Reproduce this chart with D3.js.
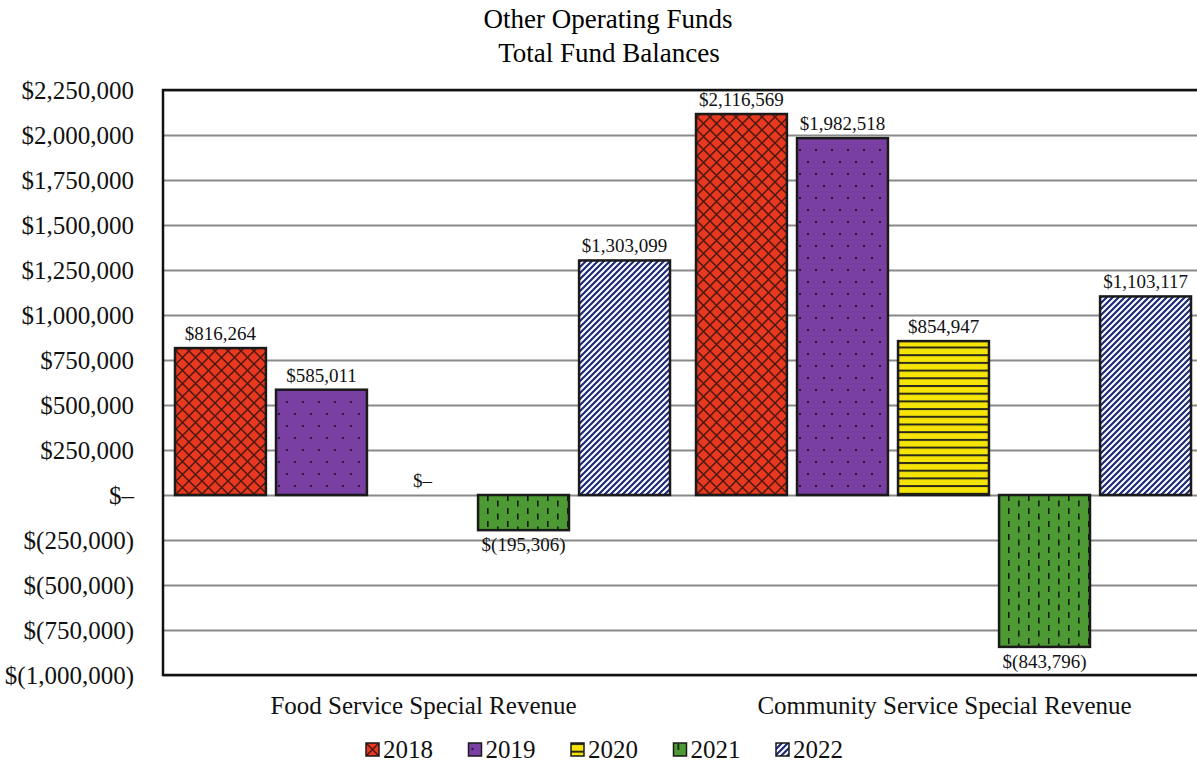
<!DOCTYPE html>
<html>
<head>
<meta charset="utf-8">
<script src="https://cdn.jsdelivr.net/npm/d3@7"></script>
<style>
  body { margin: 0; background: #fff; }
  svg text { font-family: "Liberation Serif", "DejaVu Serif", "Noto Serif", Tinos, serif; }
  .grid line { stroke: #8a8a8a; stroke-width: 2; }
</style>
</head>
<body>
<script>
  var categories = ["Food Service Special Revenue", "Community Service Special Revenue"];
  var years = ["2018", "2019", "2020", "2021", "2022"];
  var values2018 = [816264, 2116569];
  var values2019 = [585011, 1982518];
  var values2020 = [0, 854947];
  var values2021 = [-195306, -843796];
  var values2022 = [1303099, 1103117];
  var tickValues = [2250000, 2000000, 1750000, 1500000, 1250000, 1000000, 750000, 500000, 250000, 0,
                    -250000, -500000, -750000, -1000000];

  var series = [values2018, values2019, values2020, values2021, values2022];

  var width = 1197, height = 763;
  var margin = {top: 90, right: -8, bottom: 88, left: 163};

  var svg = d3.select("body").append("svg")
      .attr("width", width)
      .attr("height", height);

  // patterns
  var defs = svg.append("defs");

  var p18 = defs.append("pattern").attr("id", "p2018")
      .attr("patternUnits", "userSpaceOnUse").attr("width", 13).attr("height", 13);
  p18.append("rect").attr("width", 13).attr("height", 13).attr("fill", "#e8381f");
  p18.append("path").attr("d", "M0,0L13,13M13,0L0,13")
      .attr("stroke", "#4a1810").attr("stroke-width", 1.5);

  var p19 = defs.append("pattern").attr("id", "p2019")
      .attr("patternUnits", "userSpaceOnUse").attr("width", 16).attr("height", 24);
  p19.append("rect").attr("width", 16).attr("height", 24).attr("fill", "#7a3fa3");
  p19.append("circle").attr("cx", 4).attr("cy", 6).attr("r", 1.1).attr("fill", "#1a0a2a");
  p19.append("circle").attr("cx", 12).attr("cy", 18).attr("r", 1.1).attr("fill", "#1a0a2a");

  var p20 = defs.append("pattern").attr("id", "p2020")
      .attr("patternUnits", "userSpaceOnUse").attr("width", 8).attr("height", 7.7);
  p20.append("rect").attr("width", 8).attr("height", 7.7).attr("fill", "#f6e406");
  p20.append("rect").attr("y", 0).attr("width", 8).attr("height", 2).attr("fill", "#2a2a1a");

  var p21 = defs.append("pattern").attr("id", "p2021")
      .attr("patternUnits", "userSpaceOnUse").attr("width", 20).attr("height", 13);
  p21.append("rect").attr("width", 20).attr("height", 13).attr("fill", "#4d9a35");
  p21.append("rect").attr("x", 4).attr("y", 1).attr("width", 1.6).attr("height", 6).attr("fill", "#0d1a08");
  p21.append("rect").attr("x", 14).attr("y", 6.5).attr("width", 1.6).attr("height", 6).attr("fill", "#0d1a08");

  var p22 = defs.append("pattern").attr("id", "p2022")
      .attr("patternUnits", "userSpaceOnUse").attr("width", 6).attr("height", 6);
  p22.append("rect").attr("width", 6).attr("height", 6).attr("fill", "#ffffff");
  p22.append("path").attr("d", "M-1.5,1.5L1.5,-1.5M0,6L6,0M4.5,7.5L7.5,4.5")
      .attr("stroke", "#1c2a78").attr("stroke-width", 2.2);

  var x0 = d3.scaleBand()
      .domain(categories)
      .range([margin.left, width - margin.right]);

  var x1 = d3.scaleBand()
      .domain(years)
      .range([12, x0.bandwidth() - 14])
      .paddingInner(0.1);

  var y = d3.scaleLinear()
      .domain([-1000000, 2250000])
      .range([height - margin.bottom, margin.top]);

  var fmt = d3.format(",.0f");
  function money(v) {
    if (v === 0) return "$\u2013";
    if (v < 0) return "$(" + fmt(-v) + ")";
    return "$" + fmt(v);
  }

  // gridlines
  svg.append("g")
      .attr("class", "grid")
      .attr("transform", "translate(" + margin.left + ",0)")
      .call(d3.axisRight(y).tickValues(tickValues).tickSize(width - margin.left).tickFormat(""))
      .call(function(g) { g.select(".domain").remove(); });

  // axis-y labels
  var yAxis = svg.append("g")
      .attr("transform", "translate(" + (margin.left - 26) + ",0)")
      .call(d3.axisLeft(y).tickValues(tickValues).tickSize(0).tickFormat(money));
  yAxis.attr("font-family", null).attr("font-size", null);
  yAxis.select(".domain").remove();
  yAxis.selectAll("text")
      .attr("font-size", "25px")
      .attr("dy", "0.35em")
      .attr("fill", "#111");

  // bars
  var group = svg.selectAll(".cat")
    .data(categories)
    .enter().append("g")
      .attr("transform", function(d) { return "translate(" + x0(d) + ",0)"; });

  var bar = group.selectAll("g")
    .data(function(d, i) {
      return years.map(function(yr, j) { return {year: yr, value: series[j][i]}; });
    })
    .enter().append("g");

  bar.filter(function(d) { return d.value !== 0; })
    .append("rect")
      .attr("x", function(d) { return x1(d.year); })
      .attr("y", function(d) { return y(Math.max(0, d.value)); })
      .attr("width", x1.bandwidth())
      .attr("height", function(d) { return Math.abs(y(d.value) - y(0)); })
      .attr("fill", function(d) { return "url(#p" + d.year + ")"; })
      .attr("stroke", "#1a1a1a")
      .attr("stroke-width", 2.5);

  bar.append("text")
    .attr("x", function(d) { return x1(d.year) + x1.bandwidth() / 2; })
    .attr("y", function(d) {
      if (d.value < 0) return y(d.value) + 21;
      if (d.value === 0) return y(0) - 8;
      return y(d.value) - 8;
    })
    .attr("text-anchor", "middle")
    .attr("font-size", "19px")
    .attr("fill", "#111")
    .text(function(d) { return money(d.value); });

  // frame
  svg.append("path")
    .attr("d", "M" + width + "," + y(2250000) + "H" + margin.left + "V" + y(-1000000) + "H" + width)
    .attr("fill", "none")
    .attr("stroke", "#111")
    .attr("stroke-width", 2.5);

  // category labels
  svg.selectAll(".catlabel")
    .data(categories)
    .enter().append("text")
      .attr("x", function(d) { return x0(d) + x0.bandwidth() / 2; })
      .attr("y", 714)
      .attr("text-anchor", "middle")
      .attr("font-size", "25px")
      .attr("fill", "#111")
      .text(function(d) { return d; });

  // title
  svg.append("text")
    .attr("x", 608).attr("y", 28)
    .attr("text-anchor", "middle")
    .attr("font-size", "27px")
    .text("Other Operating Funds");
  svg.append("text")
    .attr("x", 609).attr("y", 62)
    .attr("text-anchor", "middle")
    .attr("font-size", "27px")
    .text("Total Fund Balances");

  // legend
  var legend = svg.selectAll(".legend")
    .data(years)
    .enter().append("g")
      .attr("transform", function(d, i) { return "translate(" + (366 + i * 102.5) + ",743)"; });

  legend.append("rect")
    .attr("width", 13).attr("height", 13)
    .attr("fill", function(d) { return "url(#p" + d + ")"; })
    .attr("stroke", "#1a1a1a")
    .attr("stroke-width", 1.5);

  legend.append("text")
    .attr("x", 17).attr("y", 15)
    .attr("font-size", "25px")
    .attr("fill", "#111")
    .text(function(d) { return d; });
</script>
</body>
</html>
